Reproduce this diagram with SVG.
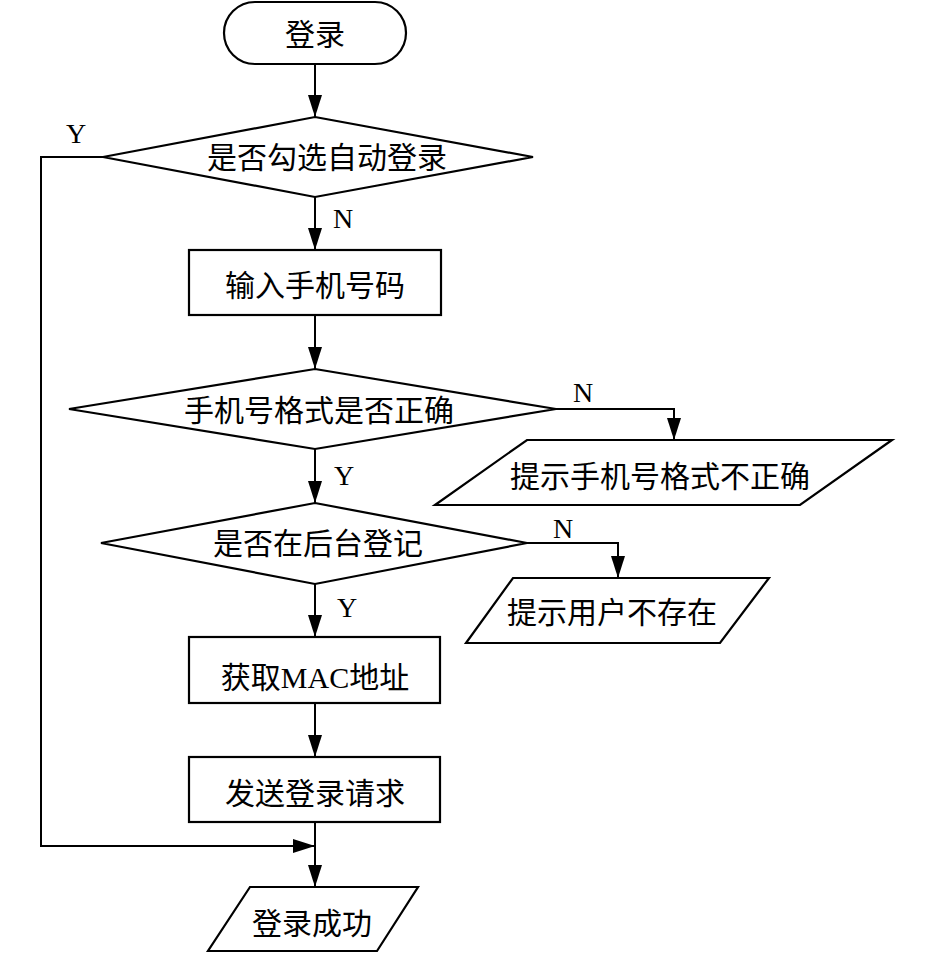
<svg xmlns="http://www.w3.org/2000/svg" width="945" height="953" viewBox="0 0 945 953">
<defs>
<style>
.shape{fill:#fff;stroke:#000;stroke-width:2.2}
.line{fill:none;stroke:#000;stroke-width:2}
.cjk{font-family:"Noto Sans CJK SC","Liberation Serif",sans-serif;font-size:30px;fill:#000;text-anchor:middle}
.lat{font-family:"Liberation Serif",serif;font-size:28px;fill:#000}
</style>
<marker id="arr" markerUnits="userSpaceOnUse" markerWidth="23" markerHeight="14" refX="22" refY="7" orient="auto">
<path d="M0,0 L22,7 L0,14 Z" fill="#000"/>
</marker>
</defs>
<rect width="945" height="953" fill="#fff"/>
<g id="connectors">
<line class="line" x1="315" y1="64" x2="315" y2="117" marker-end="url(#arr)"/>
<line class="line" x1="315" y1="197" x2="315" y2="250" marker-end="url(#arr)"/>
<line class="line" x1="315" y1="315" x2="315" y2="369" marker-end="url(#arr)"/>
<line class="line" x1="315" y1="449" x2="315" y2="503" marker-end="url(#arr)"/>
<line class="line" x1="315" y1="584" x2="315" y2="637" marker-end="url(#arr)"/>
<line class="line" x1="315" y1="703" x2="315" y2="757" marker-end="url(#arr)"/>
<line class="line" x1="315" y1="822" x2="315" y2="887" marker-end="url(#arr)"/>
<polyline class="line" points="556,409 674,409 674,440" marker-end="url(#arr)"/>
<polyline class="line" points="527,543 618,543 618,578" marker-end="url(#arr)"/>
<polyline class="line" points="103,157 41,157 41,846 315,846" marker-end="url(#arr)"/>
<text class="lat" x="66" y="143">Y</text>
<text class="lat" x="333" y="228">N</text>
<text class="lat" x="573" y="402">N</text>
<text class="lat" x="334" y="485">Y</text>
<text class="lat" x="553" y="538">N</text>
<text class="lat" x="337" y="617">Y</text>
</g>
<g id="start">
<rect class="shape" x="224" y="2" width="182" height="62" rx="31" ry="31"/>
<text class="cjk" x="315" y="45">登录</text>
</g>
<g id="auto-login">
<polygon class="shape" points="315,117 533,157 315,197 103,157"/>
<text class="cjk" x="327" y="168">是否勾选自动登录</text>
</g>
<g id="input-phone">
<rect class="shape" x="189" y="250" width="252" height="65"/>
<text class="cjk" x="315" y="296">输入手机号码</text>
</g>
<g id="phone-format">
<polygon class="shape" points="315,369 556,409 315,449 69,409"/>
<text class="cjk" x="319" y="421">手机号格式是否正确</text>
</g>
<g id="format-error">
<polygon class="shape" points="527,440 892,440 800,505 435,505"/>
<text class="cjk" x="660" y="487">提示手机号格式不正确</text>
</g>
<g id="registered">
<polygon class="shape" points="315,503 527,543 315,584 101,543"/>
<text class="cjk" x="318" y="554">是否在后台登记</text>
</g>
<g id="user-missing">
<polygon class="shape" points="513,578 769,578 720,643 466,643"/>
<text class="cjk" x="612" y="623">提示用户不存在</text>
</g>
<g id="get-mac">
<rect class="shape" x="189" y="637" width="251" height="66"/>
<text class="cjk" x="315" y="688">获取<tspan style="font-family:'Liberation Serif',serif">MAC</tspan>地址</text>
</g>
<g id="send-request">
<rect class="shape" x="189" y="757" width="251" height="65"/>
<text class="cjk" x="315" y="804">发送登录请求</text>
</g>
<g id="success">
<polygon class="shape" points="250,887 418,887 377,951 208,951"/>
<text class="cjk" x="312" y="934">登录成功</text>
</g>
</svg>
